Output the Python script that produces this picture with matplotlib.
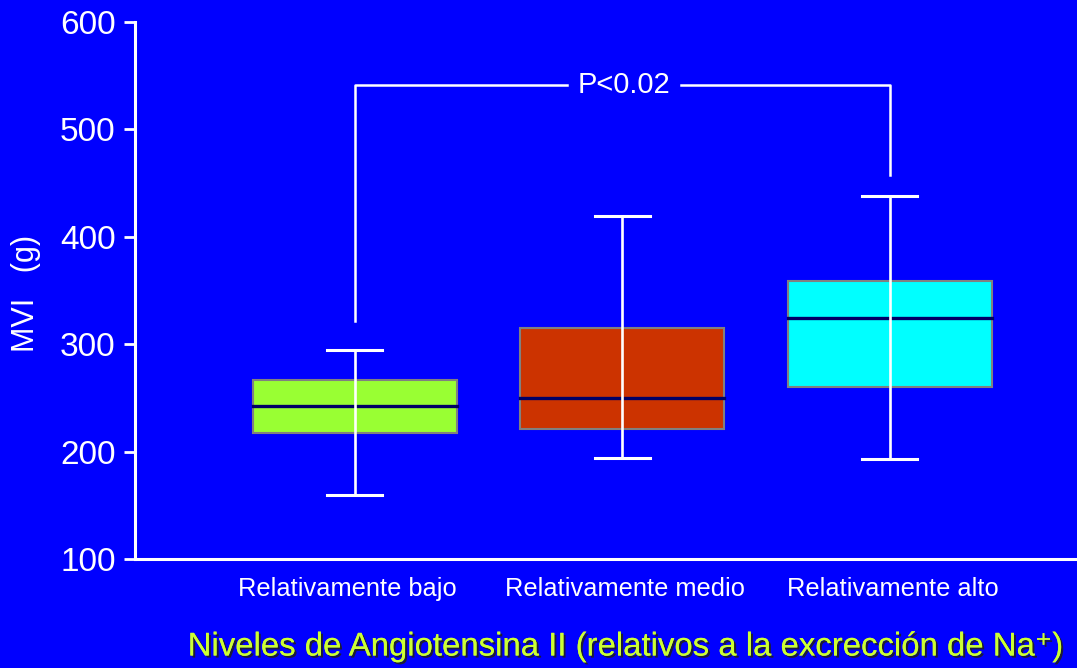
import matplotlib
matplotlib.use("Agg")
import matplotlib.pyplot as plt
import matplotlib.patheffects as pe
from matplotlib.patches import Rectangle

# Left ventricular mass (MVI, g) by relative Angiotensin II level
categories = ["Relativamente bajo", "Relativamente medio", "Relativamente alto"]
q1 = [217, 221, 260]
median = [242, 250, 324]
q3 = [267, 315, 359]
whisker_low = [160, 194, 193]
whisker_high = [295, 419, 438]
box_colors = ["#99FF33", "#CC3300", "#00FFFF"]

y_ticks = [100, 200, 300, 400, 500, 600]
p_text = "P<0.02"
bracket_top = 541
bracket_left_end = 322
bracket_right_end = 458

BG = "#0000FF"
plt.rcParams["font.family"] = ["Liberation Sans", "DejaVu Sans"]

fig = plt.figure(figsize=(10.77, 6.68), dpi=100, facecolor=BG)
ax = fig.add_axes([135 / 1077, 1 - 559 / 668, (1077 - 135) / 1077, (559 - 22) / 668])
ax.set_facecolor(BG)

positions = [1, 2, 3]
label_positions = [0.97, 2.01, 3.01]
box_w = 0.763
cap_w = 0.206

for x, lo, a, m, b, hi, c in zip(positions, whisker_low, q1, median, q3, whisker_high, box_colors):
    ax.add_patch(Rectangle((x - box_w / 2, a), box_w, b - a, facecolor=c,
                           edgecolor="#808080", linewidth=1.5, zorder=2))
    ax.plot([x - box_w / 2, x + box_w / 2], [m, m], color="#000066", lw=2.4, zorder=3)
    ax.plot([x, x], [lo, hi], color="white", lw=1.9, zorder=4)
    for v in (lo, hi):
        ax.plot([x - cap_w / 2, x + cap_w / 2], [v, v], color="white", lw=2.2, zorder=4)

# significance bracket between the low and high groups
xl, xr = positions[0], positions[2]
ax.plot([xl, xl, 1.795], [bracket_left_end, bracket_top, bracket_top], color="white", lw=1.8)
ax.plot([2.22, xr, xr], [bracket_top, bracket_top, bracket_right_end], color="white", lw=1.8)
ax.text(2.005, bracket_top, p_text, color="white", fontsize=21, ha="center", va="center")

ax.set_xlim(0.178, 3.70)
ax.set_ylim(100, 600)
ax.set_yticks(y_ticks)
ax.set_yticklabels([str(v) for v in y_ticks])
ax.set_xticks(label_positions)
ax.set_xticklabels(categories)

for s in ("top", "right"):
    ax.spines[s].set_visible(False)
for s in ("left", "bottom"):
    ax.spines[s].set_color("white")
    ax.spines[s].set_linewidth(2.2)

ax.tick_params(axis="y", colors="white", labelsize=24, length=8, width=2, pad=6, direction="out")
ax.tick_params(axis="x", colors="white", labelsize=18.3, length=0, pad=13)

fig.text(26 / 1077, 1 - 293 / 668, "MVI   (g)", color="white", fontsize=22,
         rotation=90, ha="center", va="center")

fig.text(625 / 1077, 1 - 647 / 668, "Niveles de Angiotensina II (relativos a la excrección de Na\u207a)",
         color="#CCFF33", fontsize=23.7, ha="center", va="center",
         path_effects=[pe.withSimplePatchShadow(offset=(1.5, -1.5), shadow_rgbFace="#202020", alpha=0.9),
                       pe.Normal()])

fig.savefig("out.png", dpi=100, facecolor=BG)
